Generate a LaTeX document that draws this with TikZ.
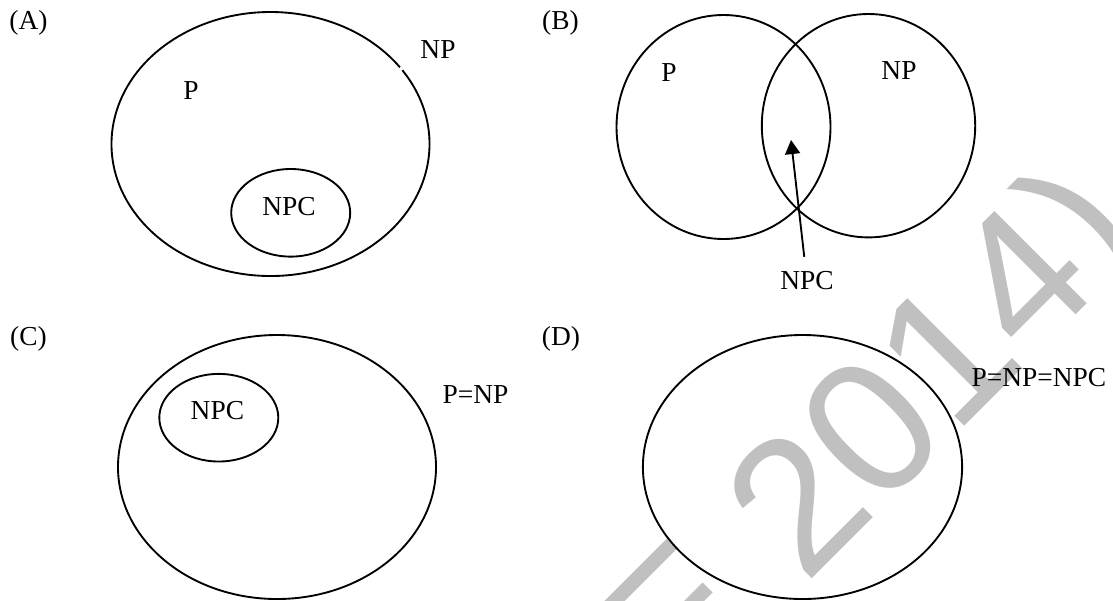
\documentclass[tikz,border=0pt]{standalone}
\usepackage{fontspec}
\setmainfont{Liberation Serif}
\newfontfamily\wmfont{Liberation Sans}
\usepackage{tikz}
\usetikzlibrary{arrows.meta}
\definecolor{wmgray}{RGB}{192,192,192}

\begin{document}
\begin{tikzpicture}[x=0.015cm,y=-0.015cm,thick,
		font=\fontsize{11.7}{14}\selectfont,
		lbl/.style={inner sep=1pt},
		wmark/.style={anchor=base west,inner sep=0pt,rotate=45,text=wmgray,
			font=\wmfont\fontsize{81}{81}\selectfont},
		ptr/.style={-{Triangle[length=6pt,width=6.4pt]},shorten <=5pt}]
				% Page frame, in pixels with y running down.
				\useasboundingbox (0,0) rectangle (1113,600);
				\clip (0,0) rectangle (1113,600);
				
				% Watermark, behind everything else.
				\node[wmark] (wm) at (678,713) {E 2014)};
				
				% Define ellipse parameters for the big sets.
				\def\rbx{159}      %x radius of a big ellipse.
				\def\rby{132}      %y radius of a big ellipse.
				\def\rsx{59.5}     %x radius of an NPC ellipse.
				\def\rsy{43.8}     %y radius of an NPC ellipse.
				
				
				% (A) NPC inside P inside NP
				\node[lbl] (labA) at (28.5,22.5) {(A)};
				\draw (270.5,144) ++({\rbx*cos(-34)},{\rby*sin(-34)})
					arc[start angle=-34,end angle=324.5,x radius=\rbx,y radius=\rby];
				\draw (290.7,212.8) ellipse[x radius=\rsx,y radius=\rsy];
				\node[lbl] (pA) at (191,91) {P};
				\node[lbl] (npA) at (438,49.7) {NP};
				\node[lbl] (npcA) at (289,206.7) {NPC};
				
				% (B) P and NP overlapping, NPC in between
				\node[lbl] (labB) at (560.5,22.5) {(B)};
				\draw (723.5,127) ellipse[x radius=107,y radius=112];
				\draw (868.5,125.7) ellipse[x radius=106.7,y radius=111.7];
				\node[lbl] (pB) at (669,72.5) {P};
				\node[lbl] (npB) at (899,71) {NP};
				\node[lbl] (npcB) at (807,281) {NPC};
				\coordinate (tipB) at (791,140);
				\draw[ptr] (npcB) -- (tipB);
				
				% (C) NPC inside P=NP
				\node[lbl] (labC) at (28.5,339) {(C)};
				\draw (277,467) ellipse[x radius=\rbx,y radius=\rby];
				\draw (218.8,417.7) ellipse[x radius=\rsx,y radius=\rsy];
				\node[lbl] (npcC) at (217.4,410.7) {NPC};
				\node[lbl] (pnpC) at (475.5,395) {P=NP};
				
				% (D) all three the same
				\node[lbl] (labD) at (561,339) {(D)};
				\draw (802.5,467) ellipse[x radius=159.6,y radius=\rby];
				\node[lbl] (allD) at (1039,378) {P=NP=NPC};
				
\end{tikzpicture}
\end{document}
